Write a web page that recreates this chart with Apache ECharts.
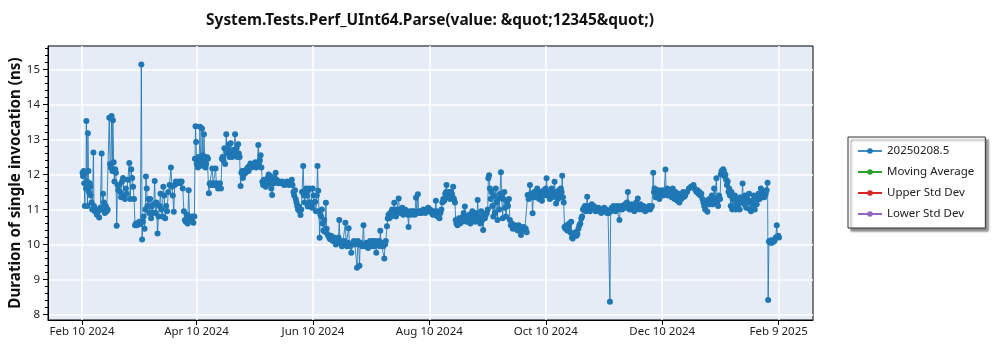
<!DOCTYPE html>
<html>
<head>
<meta charset="utf-8">
<script src="https://cdn.jsdelivr.net/npm/echarts@6/dist/echarts.min.js"></script>
<style>
  html, body { margin: 0; padding: 0; background: #ffffff; }
  #chart { width: 1000px; height: 350px; }
</style>
</head>
<body>
<div id="chart"></div>
<script>
// Benchmark history: [days since 2024-02-10, duration in ns]
const febToApr = [
  [0.3,12.05],[0.6,11.95],[0.9,12.1],[1.2,11.75],[1.5,11.1],[1.8,12.05],[2.1,11.6],[2.3,13.53],[2.6,11.8],[2.9,11.1],
  [3.1,13.18],[3.4,12.1],[3.7,11.5],[4.0,11.75],[4.3,11.65],[4.6,11.4],[5.0,11.2],[5.4,11.0],[6.0,12.63],[6.3,11.1],
  [6.7,10.95],[7.2,11.0],[7.8,10.85],[8.5,10.95],[9.0,10.77],[9.6,11.05],[10.3,12.6],[10.6,11.0],[11.0,11.45],[11.5,11.2],
  [12.0,10.9],[12.5,11.1],[13.0,10.95],[13.5,11.0],[14.3,13.62],[14.7,12.3],[15.1,12.2],[15.5,13.67],[15.9,12.1],[16.2,13.55],
  [16.6,12.35],[17.0,11.8],[17.4,12.15],[17.8,12.05],[18.2,10.53],[18.6,11.7],[19.0,11.55],[19.5,11.7],[20.0,11.5],[20.5,11.35],
  [21.0,11.8],[21.5,11.9],[22.0,11.4],[22.5,11.3],[23.0,11.6],[23.5,11.45],[24.0,11.85],[24.8,12.33],[25.3,11.3],[25.8,12.15],
  [26.3,11.9],[26.8,11.65],[27.3,11.3],[27.8,10.55],[28.3,10.6],[28.8,10.55],[29.4,10.6],[30.0,10.65],[30.6,10.58],[31.1,15.14],
  [31.5,10.14],[31.9,10.65],[32.3,10.8],[32.8,10.45],[33.2,11.0],[33.5,11.94],[33.9,11.6],[34.3,11.1],[34.8,11.3],[35.2,10.9],
  [35.7,11.3],[36.2,10.75],[36.6,11.1],[37.1,10.9],[37.6,11.15],[38.1,11.81],[38.5,10.9],[39.0,11.2],[39.6,10.31],[40.1,10.8],
  [40.6,11.1],[41.1,11.45],[41.6,11.0],[42.1,10.8],[42.6,11.65],[43.1,11.4],[43.6,10.75],[44.1,11.1],[44.6,10.95],[45.2,11.5],
  [45.9,11.7],[46.6,12.2],[47.1,11.65],[47.6,11.4],[48.1,10.93],[48.6,11.7],[49.2,11.8],[49.8,11.75],[50.4,11.78],[51.0,11.8],
  [51.6,11.75],[52.2,11.8],[52.8,11.6],[53.4,10.95],[53.9,10.7],[54.4,10.65],[54.9,10.85],[55.4,10.6],[55.9,11.55],[56.4,10.8],
  [56.9,10.75],[57.4,10.7],[57.9,10.8],[58.4,10.62],[58.9,10.8],[59.2,12.45],[59.5,13.38],[59.8,12.93]
];
const aprToJun = [
  [60.1,12.3],[60.4,12.4],[60.7,12.2],[61.0,12.5],[61.4,12.3],[61.8,13.36],[62.2,12.45],[62.6,12.25],[62.9,13.31],[63.3,12.55],
  [63.6,12.4],[63.9,13.15],[64.3,12.5],[64.7,12.2],[65.1,12.3],[65.6,12.49],[66.0,12.45],[66.5,11.46],[66.9,11.74],[67.4,11.7],
  [67.8,11.75],[68.3,12.17],[68.7,11.7],[69.1,11.75],[69.6,11.7],[70.0,12.17],[70.4,11.75],[70.8,11.7],[71.3,11.6],[71.8,11.65],
  [72.3,11.75],[72.8,11.6],[73.3,12.45],[73.7,12.5],[74.1,12.4],[74.6,12.75],[75.0,12.3],[75.6,13.15],[76.0,12.6],[76.4,12.7],
  [76.9,12.85],[77.3,12.5],[77.9,12.89],[78.3,12.65],[78.7,12.5],[79.1,12.7],[79.6,12.55],[80.2,13.15],[80.6,12.6],[81.0,12.75],
  [81.4,12.5],[81.8,12.86],[82.2,12.6],[82.6,12.5],[83.1,11.67],[83.5,12.05],[83.9,12.1],[84.3,11.9],[84.8,12.0],[85.3,12.1],
  [85.8,12.05],[86.3,12.15],[86.8,12.2],[87.3,12.1],[87.8,12.25],[88.3,12.31],[88.8,12.2],[89.3,12.3],[89.8,12.25],[90.3,12.3],
  [90.8,12.35],[91.3,12.2],[91.8,12.3],[92.4,12.84],[92.8,12.35],[93.2,12.4],[93.6,12.55],[94.0,12.2],[94.5,11.79],[94.9,11.7],
  [95.3,11.85],[95.8,11.75],[96.3,11.65],[96.8,11.8],[97.3,11.9],[97.8,12.0],[98.2,11.75],[98.7,11.95],[99.2,11.6],[99.6,11.41],
  [100.1,11.8],[100.6,11.75],[101.0,11.9],[101.5,12.05],[101.9,11.85],[102.4,11.8],[102.9,11.75],[103.4,11.8],[103.9,11.78],[104.4,11.75],
  [104.9,11.8],[105.4,11.75],[105.9,11.7],[106.4,11.75],[106.9,11.72],[107.4,11.8],[107.9,11.75],[108.4,11.7],[108.9,11.78],[109.4,11.8],
  [109.9,11.85],[110.3,11.7],[110.8,11.5],[111.2,11.4],[111.6,11.55],[112.0,11.3],[112.4,11.2],[112.8,11.1],[113.2,11.0],[113.6,11.08],
  [114.0,10.95],[114.5,10.84],[114.9,11.0],[115.3,11.5],[115.9,12.24],[116.3,11.4],[116.7,11.2],[117.1,11.55],[117.5,11.6],[117.9,11.4],
  [118.3,11.08],[118.7,11.55],[119.1,11.6],[119.6,11.2],[120.0,11.1],[120.5,11.05]
];
const junToAug = [
  [120.9,11.6],[121.3,11.4],[121.7,11.2],[122.2,11.22],[122.6,10.95],[123.0,11.4],[123.4,12.24],[123.8,11.53],[124.2,10.95],[124.5,10.19],
  [124.9,10.85],[125.3,10.8],[125.7,11.0],[126.1,10.6],[126.5,10.4],[126.9,10.7],[127.3,10.36],[127.8,11.19],[128.2,10.45],[128.6,10.3],
  [129.0,10.25],[129.5,10.2],[130.0,10.15],[130.5,10.25],[131.0,10.2],[131.5,10.1],[132.0,10.2],[132.5,10.15],[133.0,10.0],[133.5,10.1],
  [134.0,10.05],[134.4,10.2],[134.8,10.7],[135.2,10.05],[135.7,10.1],[136.2,9.95],[136.7,10.05],[137.2,10.0],[137.6,10.1],[138.0,10.62],
  [138.4,10.0],[138.8,9.95],[139.3,10.05],[139.7,10.46],[140.1,10.0],[140.6,9.95],[141.1,9.76],[141.5,10.0],[142.0,10.05],[142.5,10.1],
  [143.0,10.0],[143.5,10.05],[144.1,9.33],[144.5,10.1],[145.0,10.0],[145.4,9.39],[145.8,10.05],[146.3,10.0],[146.8,9.95],[147.5,10.55],
  [147.9,10.0],[148.4,9.95],[148.9,10.05],[149.4,10.0],[149.9,9.9],[150.4,10.0],[150.9,10.1],[151.4,9.95],[151.9,10.05],[152.4,10.1],
  [152.8,10.0],[153.3,9.95],[153.8,10.1],[154.2,9.76],[154.6,10.05],[155.1,10.0],[155.6,10.1],[156.0,9.95],[156.3,10.39],[156.8,10.0],
  [157.3,10.05],[157.8,9.95],[158.4,9.6],[158.8,10.0],[159.2,10.1],[159.8,10.52],[160.2,10.74],[160.6,10.85],[161.0,10.75],[161.5,10.9],
  [162.0,10.8],[162.5,11.0],[163.0,10.85],[163.6,11.19],[164.0,10.9],[164.5,10.8],[165.0,11.0],[165.4,10.95],[165.9,11.31],[166.3,11.0],
  [166.8,10.9],[167.3,10.95],[167.8,11.05],[168.3,10.85],[168.8,10.95],[169.3,11.0],[169.8,10.9],[170.3,10.95],[170.7,10.85],[171.1,10.5],
  [171.5,10.9],[172.0,10.95],[172.5,10.85],[172.9,10.95],[173.4,10.9],[173.9,10.95],[174.4,10.85],[175.0,11.33],[175.4,10.9],[176.0,11.43],
  [176.4,10.95],[176.9,10.9],[177.4,10.95],[177.9,10.9],[178.4,10.95],[178.9,11.0],[179.4,10.95],[179.9,10.9],[180.4,11.0],[180.9,10.95],
  [181.4,11.05],[181.9,10.95],[182.4,11.0]
];
const augToOct = [
  [182.8,10.95],[183.3,10.9],[183.8,10.85],[184.3,10.95],[184.8,10.85],[185.4,11.25],[185.8,10.95],[186.3,10.8],[186.8,10.85],[187.3,10.75],
  [187.8,10.9],[188.3,11.0],[188.8,11.2],[189.3,11.3],[189.8,11.25],[190.3,11.45],[190.8,11.5],[191.0,11.7],[191.4,11.4],[191.9,11.35],
  [192.4,11.5],[192.8,11.3],[193.3,11.5],[193.8,11.45],[194.2,11.35],[194.5,11.65],[194.9,11.3],[195.4,11.2],[195.8,10.7],[196.2,10.6],
  [196.7,10.55],[197.1,10.7],[197.6,10.75],[198.1,10.6],[198.6,10.7],[199.1,10.65],[199.6,10.8],[200.0,10.9],[200.6,11.08],[201.0,10.75],
  [201.5,10.65],[202.0,10.8],[202.5,10.7],[203.0,10.85],[203.5,10.6],[204.0,10.75],[204.5,10.95],[205.0,10.7],[205.5,10.85],[206.0,10.65],
  [206.5,10.9],[207.0,10.75],[207.3,11.27],[207.7,10.8],[208.2,10.7],[208.7,10.6],[209.2,10.95],[209.7,10.7],[210.2,10.41],[210.6,10.8],
  [211.1,10.75],[211.6,10.85],[212.1,10.9],[212.6,11.0],[212.9,11.89],[213.3,11.98],[213.7,11.6],[214.1,11.3],[214.6,11.5],[215.0,11.1],
  [215.5,10.8],[216.0,11.4],[216.4,10.9],[216.8,11.6],[217.2,11.2],[217.7,10.7],[218.1,11.3],[218.6,11.0],[219.0,11.45],[219.5,12.06],
  [219.9,11.35],[220.4,10.75],[220.8,11.3],[221.3,11.5],[221.7,11.05],[222.2,10.8],[222.7,11.2],[223.2,11.1],[223.7,11.3],[224.2,10.7],
  [224.7,10.55],[225.2,10.6],[225.7,10.45],[226.2,10.5],[226.8,10.55],[227.3,10.45],[227.8,10.5],[228.3,10.4],[228.8,10.55],[229.3,10.45],
  [229.8,10.5],[230.0,10.27],[230.5,10.45],[231.0,10.4],[231.5,10.5],[232.0,10.4],[232.5,10.45],[233.0,10.35],[233.5,11.41],[234.0,11.3],
  [234.7,11.7],[235.2,11.45],[235.7,11.35],[236.1,10.89],[236.5,11.4],[237.0,11.5],[237.5,11.35],[238.0,11.45],[238.5,11.6],[239.0,11.45],
  [239.5,11.3],[240.0,11.5],[240.5,11.4],[241.0,11.25],[241.5,11.5],[242.0,11.55],[242.5,11.4],[243.0,11.6],[243.4,11.89],[243.8,11.5],
  [244.2,11.4]
];
const octToDec = [
  [244.6,11.5],[245.1,11.3],[245.6,11.45],[246.1,11.6],[246.6,11.35],[247.1,11.5],[247.6,11.79],[248.0,11.4],[248.4,11.17],[248.9,11.5],
  [249.4,11.3],[249.9,11.55],[250.4,11.4],[250.9,11.6],[251.3,11.5],[251.6,11.96],[252.0,11.35],[252.4,11.2],[252.8,10.5],[253.3,10.45],
  [253.8,10.55],[254.3,10.4],[254.8,10.5],[255.3,10.6],[255.8,10.35],[256.3,10.65],[256.7,10.2],[257.1,10.17],[257.6,10.3],[258.1,10.25],
  [258.6,10.35],[259.1,10.25],[259.6,10.3],[260.1,10.45],[260.6,10.55],[261.1,10.6],[261.6,10.74],[262.0,10.8],[262.5,11.0],[263.0,11.05],
  [263.5,11.1],[264.0,10.95],[264.7,11.36],[265.1,11.0],[265.6,11.1],[266.1,10.95],[266.6,11.05],[267.1,11.15],[267.6,11.05],[268.1,11.1],
  [268.6,11.0],[269.1,10.95],[269.6,11.05],[270.1,11.0],[270.6,11.05],[271.1,10.95],[271.6,11.0],[272.1,10.9],[272.6,11.0],[273.1,10.95],
  [273.6,11.05],[274.1,10.95],[274.6,11.0],[275.1,10.9],[275.6,10.95],[276.1,10.9],[276.6,8.36],[277.0,10.95],[277.5,11.05],[278.0,11.0],
  [278.5,11.1],[279.0,11.05],[279.5,10.95],[280.0,11.05],[280.5,11.1],[281.0,11.0],[281.6,10.7],[282.0,11.05],[282.5,11.1],[283.0,11.0],
  [283.5,11.05],[284.0,11.1],[284.5,11.15],[285.0,11.05],[285.5,11.2],[286.0,11.5],[286.4,11.1],[286.9,11.0],[287.4,11.05],[287.9,11.15],
  [288.4,11.0],[288.9,11.05],[289.4,10.95],[289.9,11.1],[290.4,11.2],[290.9,11.05],[291.2,11.31],[291.6,11.1],[292.1,11.0],[292.6,11.15],
  [293.1,11.05],[293.6,11.0],[294.1,11.1],[294.6,11.05],[295.1,10.95],[295.6,11.05],[296.1,11.0],[296.6,11.05],[297.1,11.1],[297.6,11.0],
  [298.1,11.05],[298.6,11.1],[299.3,12.05],[299.7,11.5],[300.0,11.6],[300.5,11.35],[301.0,11.45],[301.5,11.4],[302.0,11.55],[302.5,11.3],
  [303.0,11.5],[303.5,11.45],[304.0,11.55],[304.5,11.4],[305.0,11.5],[305.7,12.14],[306.1,11.5],[306.6,11.6]
];
const decToFeb = [
  [307.0,11.4],[307.5,11.55],[308.0,11.4],[308.5,11.5],[309.0,11.35],[309.5,11.6],[310.0,11.45],[310.5,11.3],[311.0,11.5],[311.5,11.4],
  [312.0,11.25],[312.5,11.45],[313.0,11.2],[313.5,11.35],[314.0,11.3],[314.5,11.45],[315.0,11.5],[315.5,11.36],[316.0,11.4],[317.0,11.5],
  [318.0,11.6],[319.0,11.65],[320.4,11.7],[321.0,11.6],[321.5,11.55],[322.0,11.5],[322.5,11.55],[323.0,11.45],[323.5,11.5],[324.0,11.4],
  [324.5,11.45],[325.1,11.3],[325.6,11.2],[326.0,11.1],[326.5,11.0],[327.0,11.25],[327.7,10.93],[328.1,11.2],[328.6,11.3],[329.0,11.15],
  [329.5,11.25],[330.0,11.4],[330.5,11.15],[331.2,11.6],[331.7,11.3],[332.4,11.89],[332.8,11.2],[333.3,11.1],[333.8,11.4],[334.3,11.3],
  [334.7,12.0],[335.1,12.1],[335.5,12.05],[335.9,12.15],[336.3,12.1],[336.7,11.95],[337.1,12.0],[337.5,11.85],[337.9,11.7],[338.3,11.8],
  [338.7,11.5],[339.1,11.6],[339.5,11.4],[339.9,11.1],[340.3,11.5],[340.7,11.0],[341.1,11.3],[341.6,11.05],[342.1,11.4],[342.6,11.0],
  [343.1,11.2],[343.6,11.1],[344.1,11.3],[344.6,11.0],[345.1,11.35],[345.6,11.2],[346.1,11.74],[346.5,11.3],[347.0,11.15],[347.5,11.4],
  [348.0,11.05],[348.5,11.3],[349.0,11.2],[349.5,11.45],[350.0,11.0],[350.5,10.95],[351.0,11.25],[351.5,11.1],[352.0,11.4],[352.5,11.0],
  [353.0,11.35],[353.5,11.15],[354.0,11.3],[354.5,11.45],[355.0,11.3],[355.7,11.6],[356.1,11.35],[356.6,11.5],[357.0,11.4],[357.4,11.35],
  [357.8,11.5],[358.2,11.45],[358.7,11.55],[359.2,11.76],[359.5,8.41],[359.9,10.08],[360.3,10.1],[360.7,10.05],[361.1,10.12],[361.5,10.05],
  [361.9,10.1],[362.3,10.08],[362.7,10.1],[363.1,10.15],[363.5,10.2],[364.0,10.55],[364.4,10.22],[364.8,10.25],[365.2,10.2]
];

const seriesNames = ['20250208.5', 'Moving Average', 'Upper Std Dev', 'Lower Std Dev'];
const seriesColors = ['#1f77b4', '#2ca02c', '#d62728', '#9467bd'];
const tickDates = ['2024-02-10', '2024-04-10', '2024-06-10', '2024-08-10', '2024-10-10', '2024-12-10', '2025-02-09'];
const tickLabels = ['Feb 10 2024', 'Apr 10 2024', 'Jun 10 2024', 'Aug 10 2024', 'Oct 10 2024', 'Dec 10 2024', 'Feb 9 2025'];
const yTicks = [8, 9, 10, 11, 12, 13, 14, 15];

// x runs in days since the first tick date
const DAY = 86400000;
const toTime = (s) => { const p = s.split('-').map(Number); return Date.UTC(p[0], p[1] - 1, p[2]); };
const origin = toTime(tickDates[0]);
const tickDays = tickDates.map((s) => Math.round((toTime(s) - origin) / DAY));

const history = [].concat(febToApr, aprToJun, junToAug, augToOct, octToDec, decToFeb);

const yMin = 7.84, yMax = 15.67;
const yMinor = [];
for (let i = 40; i <= 78; i++) yMinor.push(i / 5);

const font = 'Noto Sans';
const chart = echarts.init(document.getElementById('chart'), null, { renderer: 'canvas' });

chart.setOption({
  backgroundColor: '#ffffff',
  animation: false,
  title: {
    text: 'System.Tests.Perf_UInt64.Parse(value: &quot;12345&quot;)',
    left: 425, top: 8, textAlign: 'center',
    textStyle: { fontFamily: font, fontSize: 15.4, fontWeight: 'bold', color: '#111' }
  },
  grid: {
    left: 48, right: 187, top: 46, bottom: 30,
    outerBoundsMode: 'none', containLabel: false,
    show: true, backgroundColor: '#e5ecf6', borderColor: '#000', borderWidth: 1
  },
  legend: {
    orient: 'vertical', left: 848, top: 137,
    padding: [8, 11, 8, 9], itemGap: 9, itemWidth: 24, itemHeight: 7,
    backgroundColor: '#ffffff', borderColor: '#333', borderWidth: 1,
    shadowColor: 'rgba(0,0,0,0.45)', shadowBlur: 2, shadowOffsetX: 3, shadowOffsetY: 3,
    textStyle: { fontFamily: font, fontSize: 11.5, color: '#222' },
    data: seriesNames
  },
  xAxis: {
    type: 'value',
    min: -17.8, max: 383,
    axisLine: { show: true, onZero: false, lineStyle: { color: '#000', width: 1 } },
    axisTick: { show: true, customValues: tickDays, length: 5, lineStyle: { color: '#000' } },
    axisLabel: {
      customValues: tickDays, margin: 6,
      fontFamily: font, fontSize: 11.5, color: '#222',
      formatter: (v) => {
        let best = 0;
        tickDays.forEach((t, i) => { if (Math.abs(t - v) < Math.abs(tickDays[best] - v)) best = i; });
        return tickLabels[best];
      }
    },
    splitLine: { show: true, lineStyle: { color: '#ffffff', width: 1.5 } }
  },
  yAxis: [{
    type: 'value', min: yMin, max: yMax,
    name: 'Duration of single invocation (ns)', nameLocation: 'middle', nameGap: 25, nameMoveOverlap: false,
    nameTextStyle: { fontFamily: font, fontSize: 15.2, fontWeight: 'bold', color: '#111' },
    axisLine: { show: true, onZero: false, lineStyle: { color: '#000', width: 1 } },
    axisTick: { show: true, customValues: yTicks, length: 5, lineStyle: { color: '#000' } },
    axisLabel: { customValues: yTicks, margin: 8, fontFamily: font, fontSize: 11.5, color: '#222' },
    splitLine: { show: true, lineStyle: { color: '#ffffff', width: 1.5 } }
  }, {
    type: 'value', min: yMin, max: yMax, position: 'left', offset: 0,
    axisLine: { show: false, onZero: false },
    axisTick: { show: true, customValues: yMinor, length: 3, lineStyle: { color: '#000' } },
    axisLabel: { show: false },
    splitLine: { show: false }
  }],
  series: [
    {
      name: seriesNames[0], type: 'line', data: history,
      color: seriesColors[0],
      symbol: 'circle', symbolSize: 6, showSymbol: true,
      lineStyle: { width: 1, color: seriesColors[0], opacity: 0.85 },
      itemStyle: { color: seriesColors[0] }
    },
    { name: seriesNames[1], type: 'line', data: [], color: seriesColors[1], symbol: 'circle', symbolSize: 6, lineStyle: { width: 1 } },
    { name: seriesNames[2], type: 'line', data: [], color: seriesColors[2], symbol: 'circle', symbolSize: 6, lineStyle: { width: 1 } },
    { name: seriesNames[3], type: 'line', data: [], color: seriesColors[3], symbol: 'circle', symbolSize: 6, lineStyle: { width: 1 } }
  ]
});
</script>
</body>
</html>
